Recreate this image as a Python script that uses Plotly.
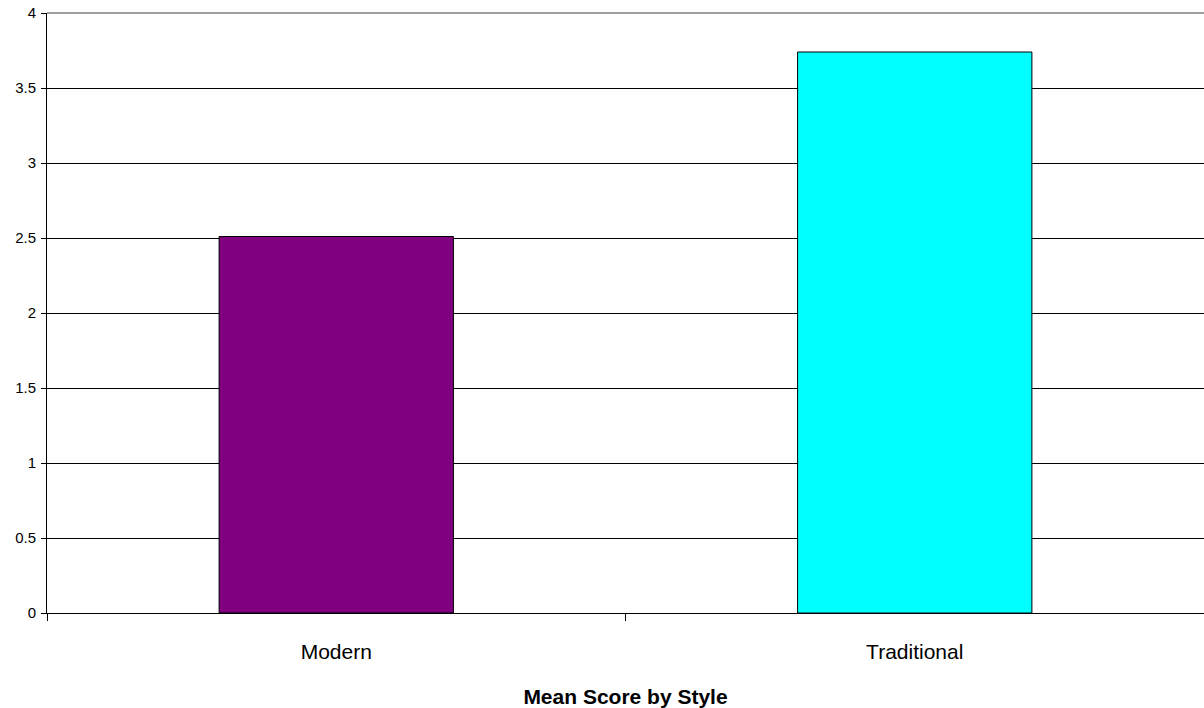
import plotly.graph_objects as go

styles = ["Modern", "Traditional"]
mean_scores = [2.51, 3.74]
bar_colors = ["#800080", "#00FFFF"]
y_ticks = [0, 0.5, 1, 1.5, 2, 2.5, 3, 3.5, 4]
y_tick_text = ["0", "0.5", "1", "1.5", "2", "2.5", "3", "3.5", "4"]

fig = go.Figure(
    go.Bar(
        x=styles,
        y=mean_scores,
        marker=dict(color=bar_colors, line=dict(color="black", width=1)),
        width=0.405,
    )
)

font_family = "Liberation Sans, Arial, sans-serif"

fig.update_layout(
    width=1204,
    height=708,
    margin=dict(l=47, r=0, t=13, b=95),
    paper_bgcolor="white",
    plot_bgcolor="white",
    showlegend=False,
    font=dict(family=font_family, color="black"),
)

fig.update_xaxes(
    showline=True,
    linecolor="black",
    linewidth=1,
    ticks="outside",
    ticklen=7,
    tickcolor="black",
    tickson="boundaries",
    tickfont=dict(size=21, color="black"),
    ticklabelstandoff=20,
    showgrid=False,
    title=dict(
        text="<b>Mean Score by Style</b>",
        font=dict(size=21, color="black"),
        standoff=29,
    ),
)

fig.update_yaxes(
    range=[0, 4],
    tickvals=y_ticks,
    ticktext=y_tick_text,
    showline=True,
    linecolor="black",
    linewidth=1,
    ticks="outside",
    ticklen=5,
    tickcolor="black",
    tickfont=dict(size=15, color="black"),
    ticklabelstandoff=2,
    showgrid=True,
    gridcolor="black",
    gridwidth=1,
    zeroline=False,
)

# grey plot-area border along the top edge
fig.add_shape(
    type="line", xref="paper", yref="paper",
    x0=0, x1=1, y0=1, y1=1,
    line=dict(color="#808080", width=1.5),
    layer="above",
)

fig.write_html("out.html")
